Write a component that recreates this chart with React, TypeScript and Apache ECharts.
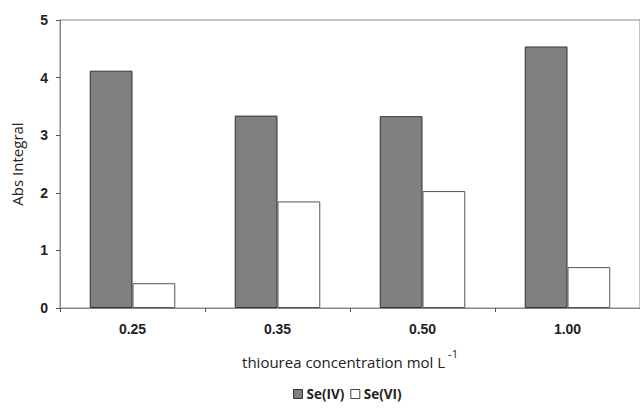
import React, { useEffect, useRef } from "react";
import * as echarts from "echarts";

const categories = ["0.25", "0.35", "0.50", "1.00"];
const seIV = [4.12, 3.34, 3.33, 4.54];
const seVI = [0.43, 1.85, 2.03, 0.71];
const yTicks = { min: 0, max: 5, interval: 1 };

export default function App() {
  const ref = useRef<HTMLDivElement>(null);
  useEffect(() => {
    if (!ref.current) return;
    const chart = echarts.init(ref.current, undefined, { renderer: "svg" });
    const font = "'Liberation Sans', Arial, sans-serif";
    const font2 = "'Open Sans', 'DejaVu Sans', sans-serif";
    chart.setOption({
      animation: false,
      backgroundColor: "#fff",
      textStyle: { fontFamily: font },
      grid: {
        left: 60,
        top: 20,
        width: 586,
        bottom: 101,
        show: true,
        borderColor: "#888",
        borderWidth: 1,
        backgroundColor: "transparent",
      },
      legend: {
        bottom: 3,
        left: 288,
        itemWidth: 9,
        itemHeight: 9,
        itemGap: 6,
        icon: "rect",
        textStyle: { fontFamily: font2, fontWeight: "bold", fontSize: 13.5, color: "#222", padding: [0, 0, 0, -1] },
        data: [
          { name: "Se(IV)", itemStyle: { color: "#808080", borderColor: "#333", borderWidth: 1 } },
          { name: "Se(VI)", itemStyle: { color: "#fff", borderColor: "#444", borderWidth: 1 } },
        ],
      },
      xAxis: {
        type: "category",
        data: categories,
        name: "{n|thiourea concentration mol L}{s|-1}",
        nameLocation: "middle",
        nameGap: 40,
        nameTextStyle: {
          rich: {
            n: { fontFamily: font2, fontSize: 15, color: "#222", verticalAlign: "bottom" },
            s: { fontFamily: font2, fontSize: 11, color: "#222", verticalAlign: "top", padding: [0, 0, 10, 3] },
          },
        },
        axisLine: { lineStyle: { color: "#888", width: 1 } },
        axisTick: { show: true, length: 4, lineStyle: { color: "#555" } },
        axisLabel: { fontFamily: font, fontWeight: "bold", fontSize: 14, color: "#222", margin: 14 },
      },
      yAxis: {
        type: "value",
        min: yTicks.min,
        max: yTicks.max,
        interval: yTicks.interval,
        name: "Abs Integral",
        nameLocation: "middle",
        nameGap: 36,
        nameTextStyle: { fontFamily: font2, fontSize: 15, color: "#222" },
        axisLine: { show: true, lineStyle: { color: "#888", width: 1 } },
        axisTick: { show: true, length: 4, lineStyle: { color: "#555" } },
        splitLine: { show: false },
        axisLabel: { fontFamily: font, fontWeight: "bold", fontSize: 14, color: "#222", margin: 12 },
      },
      series: [
        {
          name: "Se(IV)",
          type: "bar",
          data: seIV,
          barGap: "0%",
          barCategoryGap: "41%",
          itemStyle: { color: "#808080", borderColor: "#333", borderWidth: 1 },
        },
        {
          name: "Se(VI)",
          type: "bar",
          data: seVI,
          barGap: "0%",
          barCategoryGap: "41%",
          itemStyle: { color: "#fff", borderColor: "#555", borderWidth: 1 },
        },
      ],
    });
    return () => chart.dispose();
  }, []);
  return <div ref={ref} style={{ width: 640, height: 409, position: "absolute", left: 0, top: 0 }} />;
}
